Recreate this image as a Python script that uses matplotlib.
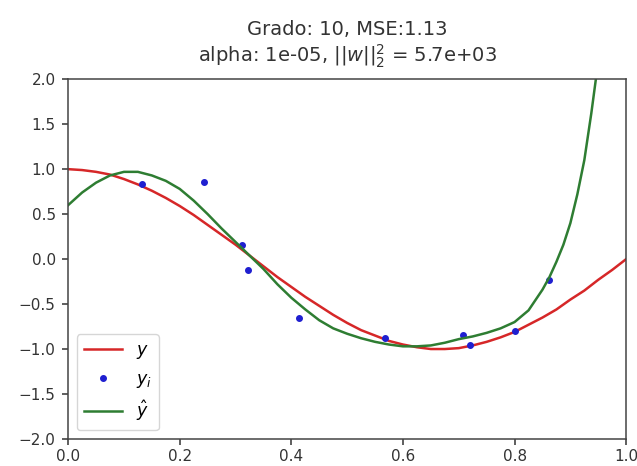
#------------------------------#
# IMPORT LIBRARIES
#------------------------------#

import numpy as np
import matplotlib
matplotlib.use("Agg")
import matplotlib.pyplot as plt

#------------------------------#
# DATA
#------------------------------#

# x grid for the true curve
x_grid = np.linspace(0, 1, 41)

# true function y
y_true = [1.00, 0.99, 0.97, 0.94, 0.89, 0.83, 0.76, 0.68, 0.59, 0.49,
          0.38, 0.27, 0.16, 0.04, -0.08, -0.20, -0.31, -0.42, -0.52, -0.62,
          -0.71, -0.79, -0.85, -0.91, -0.95, -0.98, -1.00, -1.00, -0.99, -0.96,
          -0.92, -0.87, -0.81, -0.73, -0.65, -0.56, -0.45, -0.35, -0.23, -0.12,
          0.00]

# fitted polynomial y_hat (degree 10), shown until it leaves the axes
x_fit = [0.000, 0.025, 0.050, 0.075, 0.100, 0.125, 0.150, 0.175, 0.200, 0.225,
         0.250, 0.275, 0.300, 0.325, 0.350, 0.375, 0.400, 0.425, 0.450, 0.475,
         0.500, 0.525, 0.550, 0.575, 0.600, 0.625, 0.650, 0.675, 0.700, 0.725,
         0.750, 0.775, 0.800, 0.825, 0.850, 0.8625, 0.875, 0.8875, 0.900, 0.9125,
         0.925, 0.9375, 0.950]
y_fit = [0.60, 0.74, 0.85, 0.93, 0.97, 0.97, 0.93, 0.87, 0.78, 0.65,
         0.50, 0.34, 0.19, 0.04, -0.11, -0.28, -0.43, -0.56, -0.68, -0.77,
         -0.83, -0.88, -0.92, -0.95, -0.97, -0.97, -0.96, -0.93, -0.89, -0.86,
         -0.82, -0.77, -0.70, -0.57, -0.34, -0.20, -0.03, 0.16, 0.40, 0.72,
         1.10, 1.62, 2.20]

# noisy samples
x_pts = [0.132, 0.243, 0.311, 0.323, 0.414, 0.567, 0.707, 0.720, 0.801, 0.861]
y_pts = [0.84, 0.86, 0.16, -0.12, -0.66, -0.88, -0.84, -0.95, -0.80, -0.23]

grado = 10
mse = 1.13
alpha = 1e-05
w_norm = 5.7e+03

#------------------------------#
# PLOT
#------------------------------#

fig = plt.figure(figsize=(6.37, 4.66), dpi=100)
ax = fig.add_axes([0.107, 0.058, 0.876, 0.772])

ax.plot(x_grid, y_true, color='#d62728', linewidth=1.8, label='$y$')
ax.plot(x_pts, y_pts, '.', color='#1f1fd0', markersize=8, label='$y_i$')
ax.plot(x_fit, y_fit, color='#2e7d32', linewidth=1.8, label=r'$\hat{y}$')

ax.set_xlim(0, 1)
ax.set_ylim(-2, 2)
ax.set_xticks([0.0, 0.2, 0.4, 0.6, 0.8, 1.0])
ax.set_yticks(np.arange(-2.0, 2.01, 0.5))
ax.tick_params(labelsize=11, colors='#333333', length=4, width=1.1)
ax.tick_params(axis='x', pad=3)
ax.tick_params(axis='y', pad=5)
for s in ax.spines.values():
    s.set_color('#444444')
    s.set_linewidth(1.1)

ax.set_title('Grado: {}, MSE:{:.2f}\nalpha: {}, $||w||_2^2$ = {:.1e}'.format(
    grado, mse, alpha, w_norm), fontsize=14, color='#333333', pad=12)
ax.legend(loc='lower left', fontsize=12.5, handlelength=2.2)

fig.savefig('out.png', dpi=100)
